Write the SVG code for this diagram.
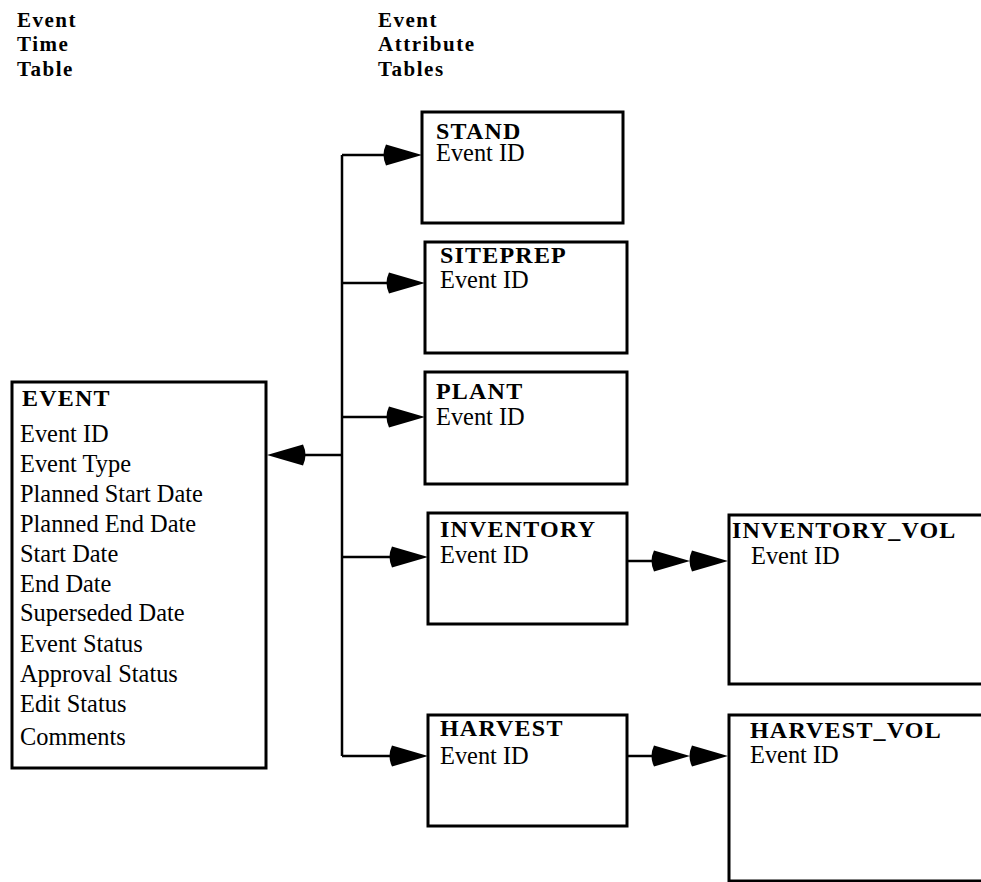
<svg xmlns="http://www.w3.org/2000/svg" width="981" height="882" viewBox="0 0 981 882">
<style>
  .box { fill: #fff; stroke: #000; stroke-width: 3; }
  .hdr { font-family: "Liberation Serif", "Times New Roman", serif; font-weight: bold; font-size: 21px; letter-spacing: 1.5px; fill: #000; }
  .title { font-family: "Liberation Serif", "Times New Roman", serif; font-weight: bold; font-size: 24px; letter-spacing: 1.2px; fill: #000; }
  .fld { font-family: "Liberation Serif", "Times New Roman", serif; font-size: 24.4px; fill: #000; }
  .ln { fill: none; stroke: #000; stroke-width: 2.5; }
  .ah { fill: #000; stroke: none; }
</style>
<defs>
  <path id="ahR" class="ah" d="M0,0 L-36,-10.5 Q-41,0 -36,10.5 Z"/>
</defs>
<rect width="981" height="882" fill="#fff"/>

<g id="headers">
  <text class="hdr" x="17" y="27">Event</text>
  <text class="hdr" x="17" y="51">Time</text>
  <text class="hdr" x="17" y="76">Table</text>
  <text class="hdr" x="378" y="27">Event</text>
  <text class="hdr" x="378" y="51">Attribute</text>
  <text class="hdr" x="378" y="76">Tables</text>
</g>

<g id="connectors">
  <path class="ln" d="M342,155 V756"/>
  <path class="ln" d="M342,155 H388"/>
  <path class="ln" d="M342,283 H391"/>
  <path class="ln" d="M342,417 H391"/>
  <path class="ln" d="M342,557 H394"/>
  <path class="ln" d="M342,756 H394"/>
  <path class="ln" d="M342,455 H300"/>
  <path class="ln" d="M627,561 H656"/>
  <path class="ln" d="M627,756 H656"/>
  <use href="#ahR" transform="translate(422,155)"/>
  <use href="#ahR" transform="translate(425,283)"/>
  <use href="#ahR" transform="translate(425,417)"/>
  <use href="#ahR" transform="translate(428,557)"/>
  <use href="#ahR" transform="translate(428,756)"/>
  <use href="#ahR" transform="translate(267,455) rotate(180)"/>
  <use href="#ahR" transform="translate(690,561)"/>
  <use href="#ahR" transform="translate(728,561)"/>
  <use href="#ahR" transform="translate(690,756)"/>
  <use href="#ahR" transform="translate(728,756)"/>
</g>

<g id="event">
  <rect class="box" x="12" y="382" width="254" height="386"/>
  <text class="title" x="22" y="406">EVENT</text>
  <text class="fld" x="20" y="442">Event ID</text>
  <text class="fld" x="20" y="472">Event Type</text>
  <text class="fld" x="20" y="502">Planned Start Date</text>
  <text class="fld" x="20" y="532">Planned End Date</text>
  <text class="fld" x="20" y="562">Start Date</text>
  <text class="fld" x="20" y="592">End Date</text>
  <text class="fld" x="20" y="621">Superseded Date</text>
  <text class="fld" x="20" y="652">Event Status</text>
  <text class="fld" x="20" y="682">Approval Status</text>
  <text class="fld" x="20" y="712">Edit Status</text>
  <text class="fld" x="20" y="745">Comments</text>
</g>

<g id="stand">
  <rect class="box" x="422" y="112" width="201" height="111"/>
  <text class="title" x="436" y="139">STAND</text>
  <text class="fld" x="436" y="161">Event ID</text>
</g>

<g id="siteprep">
  <rect class="box" x="425" y="242" width="202" height="111"/>
  <text class="title" x="440" y="263">SITEPREP</text>
  <text class="fld" x="440" y="288">Event ID</text>
</g>

<g id="plant">
  <rect class="box" x="425" y="372" width="202" height="112"/>
  <text class="title" x="436" y="399">PLANT</text>
  <text class="fld" x="436" y="425">Event ID</text>
</g>

<g id="inventory">
  <rect class="box" x="428" y="513" width="199" height="111"/>
  <text class="title" x="440" y="537">INVENTORY</text>
  <text class="fld" x="440" y="563">Event ID</text>
</g>

<g id="harvest">
  <rect class="box" x="428" y="715" width="199" height="111"/>
  <text class="title" x="440" y="736">HARVEST</text>
  <text class="fld" x="440" y="764">Event ID</text>
</g>

<g id="inventory_vol">
  <rect class="box" x="729" y="515" width="300" height="169"/>
  <text class="title" x="732" y="538">INVENTORY_VOL</text>
  <text class="fld" x="751" y="564">Event ID</text>
</g>

<g id="harvest_vol">
  <rect class="box" x="729" y="715" width="300" height="166"/>
  <text class="title" x="750" y="738">HARVEST_VOL</text>
  <text class="fld" x="750" y="763">Event ID</text>
</g>
</svg>
